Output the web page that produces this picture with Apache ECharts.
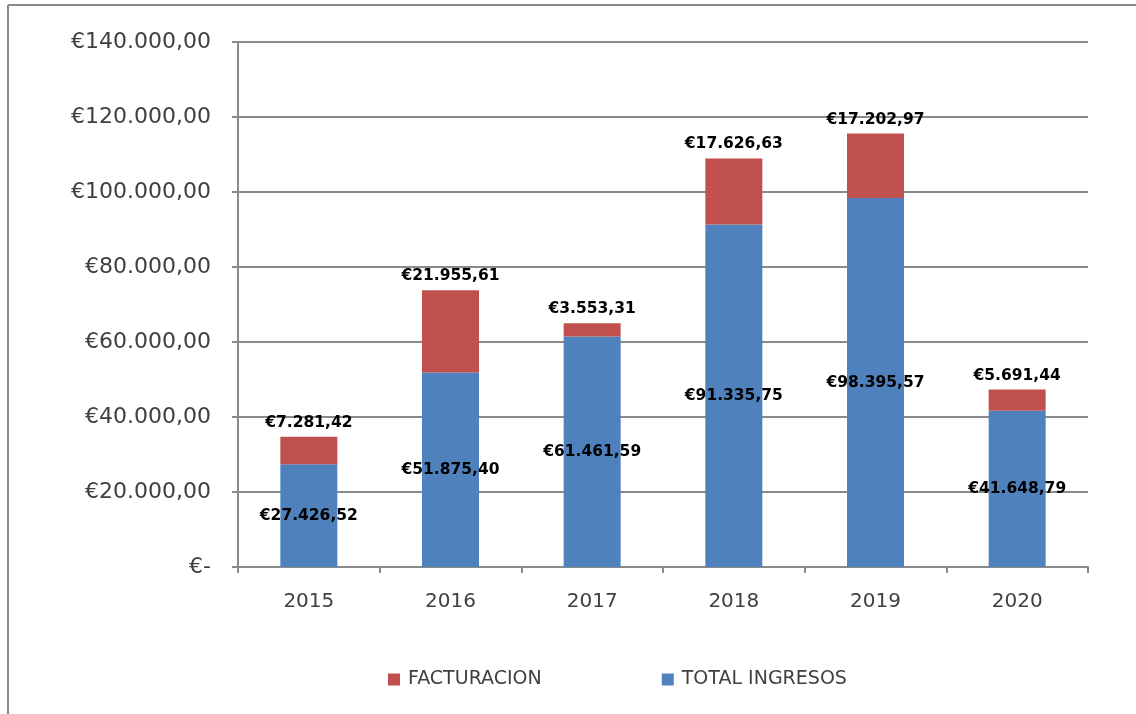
<!DOCTYPE html>
<html>
<head>
<meta charset="utf-8">
<script src="https://cdn.jsdelivr.net/npm/echarts@6/dist/echarts.min.js"></script>
<style>
  html, body { margin: 0; padding: 0; background: #fff; }
  #chart { width: 1136px; height: 714px; }
</style>
</head>
<body>
<div id="chart"></div>
<script>
// datos
var years = ['2015', '2016', '2017', '2018', '2019', '2020']
var totalIngresos = [27426.52, 51875.40, 61461.59, 91335.75, 98395.57, 41648.79]
var facturacion = [7281.42, 21955.61, 3553.31, 17626.63, 17202.97, 5691.44]
var legendNames = ['FACTURACION', 'TOTAL INGRESOS']

// formato europeo: €12.345,67
function euro (v, dec) {
  if (v === 0) return '€-'
  var parts = v.toFixed(dec).split('.')
  var ent = parts[0].replace(/\B(?=(\d{3})+(?!\d))/g, '.')
  return '€' + ent + ',' + parts[1]
}

var myChart = echarts.init(document.getElementById('chart'))

var option = {
  backgroundColor: '#fff',
  animation: false,
  graphic: [
    // marco gris arriba y a la izquierda
    { type: 'line', shape: { x1: 8, y1: 5, x2: 1136, y2: 5 }, style: { stroke: '#8a8a8a', lineWidth: 2 } },
    { type: 'line', shape: { x1: 8, y1: 5, x2: 8, y2: 714 }, style: { stroke: '#8a8a8a', lineWidth: 2 } }
  ],
  legend: {
    data: legendNames,
    left: 383,
    top: 665,
    itemWidth: 12,
    itemHeight: 12,
    itemGap: 120,
    icon: 'rect',
    textStyle: { fontFamily: 'DejaVu Sans', fontSize: 19, color: '#404040', padding: [0, 0, 0, 3] }
  },
  grid: {
    left: 238,
    right: 48,
    top: 42,
    bottom: 147
  },
  xAxis: {
    type: 'category',
    data: years,
    boundaryGap: true,
    axisLine: { lineStyle: { color: '#8a8a8a', width: 2 } },
    axisTick: { show: true, length: 6, alignWithLabel: false, lineStyle: { color: '#8a8a8a', width: 2 } },
    axisLabel: { margin: 25, fontFamily: 'DejaVu Sans', fontSize: 20, color: '#404040' }
  },
  yAxis: {
    type: 'value',
    min: 0,
    max: 140000,
    interval: 20000,
    axisLine: { show: true, lineStyle: { color: '#8a8a8a', width: 2 } },
    axisTick: { show: true, length: 6, lineStyle: { color: '#8a8a8a', width: 2 } },
    splitLine: { show: true, lineStyle: { color: '#8a8a8a', width: 2 } },
    axisLabel: {
      margin: 27,
      fontFamily: 'DejaVu Sans',
      fontSize: 22,
      color: '#404040',
      formatter: function (v) { return euro(v, 2) }
    }
  },
  series: [
    {
      name: 'TOTAL INGRESOS',
      type: 'bar',
      stack: 'total',
      barWidth: 57,
      itemStyle: { color: '#4f81bd' },
      label: {
        show: true,
        position: 'inside',
        fontFamily: 'DejaVu Sans',
        fontWeight: 'bold',
        fontSize: 15.5,
        color: '#000',
        formatter: function (p) { return euro(p.value, 2) }
      },
      data: totalIngresos
    },
    {
      name: 'FACTURACION',
      type: 'bar',
      stack: 'total',
      barWidth: 57,
      itemStyle: { color: '#c0504d' },
      label: {
        show: true,
        position: 'top',
        distance: 6,
        fontFamily: 'DejaVu Sans',
        fontWeight: 'bold',
        fontSize: 15.5,
        color: '#000',
        formatter: function (p) { return euro(p.value, 2) }
      },
      data: facturacion
    }
  ]
}

myChart.setOption(option)
</script>
</body>
</html>
